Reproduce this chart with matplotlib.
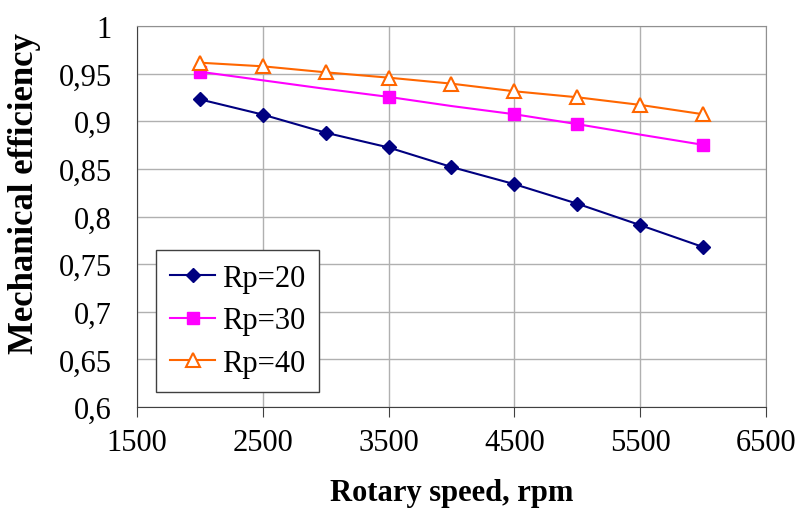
import matplotlib
matplotlib.use('Agg')
import matplotlib.pyplot as plt
import matplotlib.ticker as mticker

plt.rcParams['font.family'] = 'Liberation Serif'
plt.rcParams['font.size'] = 22

speed = [2000, 2500, 3000, 3500, 4000, 4500, 5000, 5500, 6000]
rp20 = [0.923, 0.907, 0.888, 0.8725, 0.852, 0.834, 0.8135, 0.791, 0.768]
rp30 = [0.952, 0.943, 0.934, 0.9256, 0.916, 0.9074, 0.897, 0.886, 0.8753]
rp40 = [0.9615, 0.9577, 0.9514, 0.9458, 0.9395, 0.9315, 0.9252, 0.9172, 0.9074]
rp30_marks = [0, 3, 5, 6, 8]

fig = plt.figure(figsize=(7.99, 5.10), dpi=100)
ax = fig.add_axes([0.1715, 0.2, 0.787, 0.747])

ax.plot(speed, rp20, color='#000080', marker='D', markersize=7.5, lw=1.5, label='Rp=20')
ax.plot(speed, rp30, color='#FF00FF', marker='s', markersize=8, lw=1.5,
        markevery=rp30_marks, label='Rp=30')
ax.plot(speed, rp40, color='#FF6600', marker='^', markersize=10, lw=1.5,
        markerfacecolor='white', markeredgewidth=1.5, label='Rp=40')

ax.set_xlim(1500, 6500)
ax.set_ylim(0.6, 1.0)
ax.set_xticks(range(1500, 7000, 1000))
ax.set_yticks([0.6, 0.65, 0.7, 0.75, 0.8, 0.85, 0.9, 0.95, 1.0])
ax.yaxis.set_major_formatter(mticker.FuncFormatter(
    lambda v, p: ('%g' % round(v, 2)).replace('.', ',')))

ax.grid(True, color='#b0b0b0', lw=1)
ax.set_axisbelow(True)
for s in ['top', 'right']:
    ax.spines[s].set_color('#909090')
for s in ['left', 'bottom']:
    ax.spines[s].set_color('#404040')
ax.tick_params(axis='x', direction='out', length=7, color='#404040', pad=8)
ax.tick_params(axis='y', length=0, pad=18)

ax.set_xlabel('Rotary speed, rpm', fontweight='bold', labelpad=15)
ax.set_ylabel('Mechanical efficiency', fontweight='bold', fontsize=25)
ax.yaxis.set_label_coords(-0.152, 0.564)

leg = ax.legend(loc='lower left', bbox_to_anchor=(0.03, 0.04), fancybox=False,
                edgecolor='#404040', framealpha=1, handlelength=1.5,
                handletextpad=0.2, borderpad=0.45, labelspacing=0.45,
                borderaxespad=0)
leg.get_frame().set_linewidth(1)

fig.savefig('out.png', dpi=100)
